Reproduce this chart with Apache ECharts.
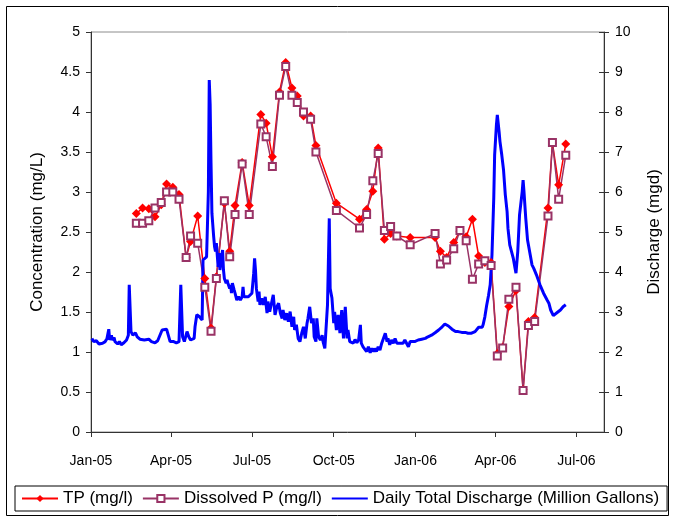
<!DOCTYPE html>
<html>
<head>
<meta charset="utf-8">
<title>Phosphorus and Discharge</title>
<script src="https://cdn.jsdelivr.net/npm/echarts@6/dist/echarts.min.js"></script>
<style>
  html, body { margin: 0; padding: 0; background: #fff; }
  #chart { width: 675px; height: 522px; }
</style>
</head>
<body>
<div id="chart"></div>
<script>
// Grab-sample dates and phosphorus concentrations (mg/l)
const sampleDates = [
  '2005-02-21','2005-02-28','2005-03-07','2005-03-14','2005-03-21','2005-03-27','2005-04-03','2005-04-10','2005-04-18','2005-04-23',
  '2005-05-01','2005-05-09','2005-05-16','2005-05-22','2005-05-31','2005-06-06','2005-06-12','2005-06-20','2005-06-28','2005-07-11',
  '2005-07-17','2005-07-24','2005-08-01','2005-08-08','2005-08-15','2005-08-21','2005-08-28','2005-09-05','2005-09-11','2005-10-04',
  '2005-10-30','2005-11-07','2005-11-14','2005-11-20','2005-11-27','2005-12-04','2005-12-11','2005-12-26','2006-01-23','2006-01-29',
  '2006-02-05','2006-02-13','2006-02-20','2006-02-27','2006-03-06','2006-03-13','2006-03-20','2006-03-27','2006-04-03','2006-04-09',
  '2006-04-16','2006-04-24','2006-05-02','2006-05-08','2006-05-15','2006-05-30','2006-06-04','2006-06-11','2006-06-19'
];
const tpValues = [
  2.73,2.80,2.79,2.69,2.84,3.10,3.06,2.97,2.18,2.38,
  2.70,1.92,1.30,1.94,2.86,2.26,2.83,3.37,2.83,3.97,
  3.86,3.44,4.25,4.62,4.30,4.20,3.95,3.95,3.58,2.86,
  2.66,2.78,3.01,3.55,2.41,2.48,2.45,2.43,2.43,2.26,
  2.18,2.37,2.51,2.44,2.66,2.20,2.12,2.12,0.98,1.06,
  1.57,1.77,0.53,1.38,1.43,2.80,3.61,3.09,3.60
];
const dissolvedPValues = [
  2.61,2.61,2.64,2.80,2.87,3.00,3.00,2.91,2.18,2.45,
  2.36,1.81,1.26,1.92,2.89,2.19,2.72,3.35,2.72,3.85,
  3.69,3.32,4.21,4.57,4.21,4.12,4.00,3.91,3.50,2.77,
  2.55,2.72,3.14,3.48,2.52,2.57,2.45,2.34,2.48,2.10,
  2.15,2.29,2.52,2.39,1.91,2.10,2.14,2.08,0.95,1.05,
  1.66,1.81,0.52,1.33,1.38,2.70,3.62,2.91,3.46
];

// Daily total discharge: [days after 2005-01-01, million gallons per day]
const dischargeReadings = [
  [1,2.34],[3,2.26],[6,2.28],[9,2.20],[11,2.15],[13,2.22],[16,2.26],[18,2.34],[20,2.57],[21,2.30],
  [23,2.42],[24,2.30],[26,2.36],[27,2.26],[30,2.20],[32,2.26],[34,2.18],[37,2.23],[40,2.30],[42,2.42],
  [43,3.68],[45,2.51],[47,2.42],[50,2.48],[52,2.38],[55,2.32],[57,2.36],[60,2.30],[62,2.28],[65,2.32],
  [68,2.26],[72,2.23],[75,2.28],[77,2.23],[80,2.55],[82,2.51],[85,2.57],[87,2.59],[89,2.26],[90,2.22],
  [93,2.26],[96,2.23],[99,2.26],[101,3.68],[103,2.38],[105,2.26],[108,2.51],[110,2.38],[112,2.30],[116,2.34],
  [117,2.63],[119,2.93],[122,2.88],[125,2.80],[126,4.30],[128,4.25],[130,4.38],[132,6.00],[133,8.80],[134,8.20],
  [135,6.72],[136,5.47],[138,4.88],[139,4.63],[140,4.51],[141,4.72],[143,4.13],[144,4.47],[145,4.05],[146,4.22],
  [148,4.55],[149,4.05],[150,3.84],[152,3.72],[153,3.80],[154,3.72],[156,3.59],[157,3.68],[158,3.47],[159,3.72],
  [161,3.55],[162,3.47],[164,3.30],[166,3.38],[168,3.30],[170,3.38],[171,3.63],[172,3.38],[173,3.38],[177,3.38],
  [181,3.47],[183,3.97],[184,4.34],[185,4.05],[186,3.59],[188,3.26],[189,3.51],[190,3.18],[192,3.34],[194,3.18],
  [196,3.38],[198,2.97],[199,3.26],[201,3.01],[203,3.22],[205,3.43],[207,2.93],[209,3.13],[211,3.22],[213,2.97],
  [215,2.84],[216,3.05],[218,2.80],[220,2.97],[222,2.76],[224,3.01],[226,2.63],[228,2.88],[229,2.55],[231,2.68],
  [233,2.34],[235,2.26],[237,2.47],[239,2.63],[241,2.34],[243,2.72],[244,2.84],[246,3.13],[248,2.72],[250,2.84],
  [251,2.38],[253,2.26],[254,2.84],[256,2.38],[258,2.30],[260,2.42],[261,2.26],[263,2.09],[265,2.05],[266,3.18],
  [268,5.34],[269,3.59],[271,3.35],[273,2.72],[274,3.00],[276,2.55],[278,2.93],[280,2.47],[282,3.05],[284,2.34],
  [286,3.13],[288,2.34],[289,2.55],[291,2.26],[293,2.30],[295,2.22],[297,2.31],[299,2.23],[301,2.30],[303,2.68],
  [304,2.22],[306,2.13],[308,2.09],[310,2.01],[312,2.13],[314,1.98],[316,2.09],[318,2.01],[319,2.09],[321,2.01],
  [323,2.13],[325,2.05],[327,2.22],[329,2.18],[331,2.47],[333,2.26],[334,2.34],[336,2.18],[338,2.30],[340,2.22],
  [342,2.34],[344,2.22],[346,2.26],[348,2.22],[350,2.18],[351,2.22],[353,2.30],[355,2.26],[357,2.13],[359,2.26],
  [361,2.26],[364,2.26],[368,2.30],[372,2.32],[376,2.34],[379,2.38],[383,2.42],[387,2.48],[391,2.55],[395,2.63],
  [398,2.70],[400,2.72],[402,2.65],[406,2.57],[410,2.51],[413,2.51],[417,2.49],[421,2.49],[424,2.47],[428,2.47],
  [432,2.51],[436,2.62],[440,2.62],[441,2.68],[443,2.88],[445,3.16],[447,3.40],[449,3.68],[451,4.43],[453,5.84],
  [454,6.93],[456,7.68],[457,7.93],[459,7.51],[460,7.26],[462,6.93],[464,6.55],[466,5.93],[468,5.51],[469,5.09],
  [471,4.68],[473,4.51],[475,4.34],[477,4.09],[478,3.97],[480,4.51],[482,5.43],[485,6.01],[486,6.30],[487,6.01],
  [489,5.34],[491,4.80],[494,4.43],[496,4.18],[498,4.09],[501,3.93],[505,3.68],[509,3.47],[513,3.30],[515,3.22],
  [517,3.05],[520,2.91],[524,2.98],[528,3.05],[531,3.13],[534,3.18]
];

// Quarterly tick marks along the date axis
const tickDates = ['2005-01-01','2005-04-01','2005-07-01','2005-10-01','2006-01-01','2006-04-01','2006-07-01'];
const tickLabels = ['Jan-05','Apr-05','Jul-05','Oct-05','Jan-06','Apr-06','Jul-06'];

// The x axis counts days from 2005-01-01
const DAY = 86400000;
const startTime = Date.UTC(2005, 0, 1);
const dayOf = s => Math.round((Date.parse(s + 'T00:00:00Z') - startTime) / DAY);
const axisEndDay = dayOf('2006-08-01');
const tickDays = tickDates.map(dayOf);

const tpData = sampleDates.map((d, i) => [dayOf(d), tpValues[i]]);
const dpData = sampleDates.map((d, i) => [dayOf(d), dissolvedPValues[i]]);
const dischargeData = dischargeReadings.map(([day, v]) => [day, v]);

const FONT = 'Liberation Sans, Arial, sans-serif';
const axisLineStyle = { color: '#333', width: 1 };
const tickLabelStyle = { fontSize: 14, color: '#000', fontFamily: FONT };
const titleStyle = { fontSize: 17, color: '#000', fontFamily: FONT };

const chart = echarts.init(document.getElementById('chart'), null, { renderer: 'canvas' });
chart.setOption({
  animation: false,
  backgroundColor: '#fff',
  textStyle: { fontFamily: FONT, color: '#000' },
  graphic: [{
    type: 'rect',
    shape: { x: 6.5, y: 6.5, width: 662, height: 509 },
    style: { fill: 'none', stroke: '#000', lineWidth: 1 },
    silent: true
  }],
  grid: {
    left: 91, right: 71, top: 32, bottom: 90,
    show: true, borderColor: '#8c8c8c', borderWidth: 1, backgroundColor: 'transparent'
  },
  legend: {
    left: 15, bottom: 11,
    padding: [4, 8, 4, 6],
    borderColor: '#000', borderWidth: 1,
    itemWidth: 36, itemHeight: 9, itemGap: 9,
    textStyle: { fontFamily: FONT, fontSize: 17, color: '#000' },
    data: [
      { name: 'TP (mg/l)' },
      { name: 'Dissolved P (mg/l)' },
      { name: 'Daily Total Discharge (Million Gallons)', itemStyle: { opacity: 0 } }
    ]
  },
  xAxis: {
    type: 'value',
    min: 0, max: axisEndDay,
    axisLine: { show: true, onZero: false, lineStyle: axisLineStyle },
    axisTick: { show: true, length: 5, lineStyle: axisLineStyle, customValues: tickDays },
    axisLabel: Object.assign({
      customValues: tickDays,
      margin: 22,
      formatter: v => { const i = tickDays.indexOf(Math.round(v)); return i >= 0 ? tickLabels[i] : ''; }
    }, tickLabelStyle),
    splitLine: { show: false }
  },
  yAxis: [{
    type: 'value', min: 0, max: 5, interval: 0.5,
    name: 'Concentration (mg/L)', nameLocation: 'middle', nameGap: 45, nameRotate: 90,
    nameTextStyle: titleStyle,
    axisLine: { show: true, lineStyle: axisLineStyle },
    axisTick: { show: true, length: 5, lineStyle: axisLineStyle },
    axisLabel: Object.assign({ margin: 11 }, tickLabelStyle),
    splitLine: { show: false }
  }, {
    type: 'value', min: 0, max: 10, interval: 1, position: 'right',
    name: 'Discharge (mgd)', nameLocation: 'middle', nameGap: 42, nameRotate: 90,
    nameTextStyle: titleStyle,
    axisLine: { show: true, lineStyle: axisLineStyle },
    axisTick: { show: true, length: 5, lineStyle: axisLineStyle },
    axisLabel: Object.assign({ margin: 11 }, tickLabelStyle),
    splitLine: { show: false }
  }, {
    // inner half of the crossing tick marks on the discharge axis
    type: 'value', min: 0, max: 10, interval: 1, position: 'right',
    axisLine: { show: false },
    axisTick: { show: true, inside: true, length: 5, lineStyle: axisLineStyle },
    axisLabel: { show: false },
    splitLine: { show: false }
  }],
  series: [{
    name: 'TP (mg/l)',
    type: 'line',
    data: tpData,
    symbol: 'diamond', symbolSize: 9,
    itemStyle: { color: '#ff0000' },
    lineStyle: { color: '#ff0000', width: 1.5 }
  }, {
    name: 'Dissolved P (mg/l)',
    type: 'line',
    data: dpData,
    symbol: 'emptyRect', symbolSize: 7,
    itemStyle: { color: '#993366', borderWidth: 1 },
    lineStyle: { color: '#993366', width: 1.5 }
  }, {
    name: 'Daily Total Discharge (Million Gallons)',
    type: 'line',
    yAxisIndex: 1,
    data: dischargeData,
    showSymbol: false,
    itemStyle: { color: '#0000ff' },
    lineStyle: { color: '#0000ff', width: 3 }
  }]
});
</script>
</body>
</html>
